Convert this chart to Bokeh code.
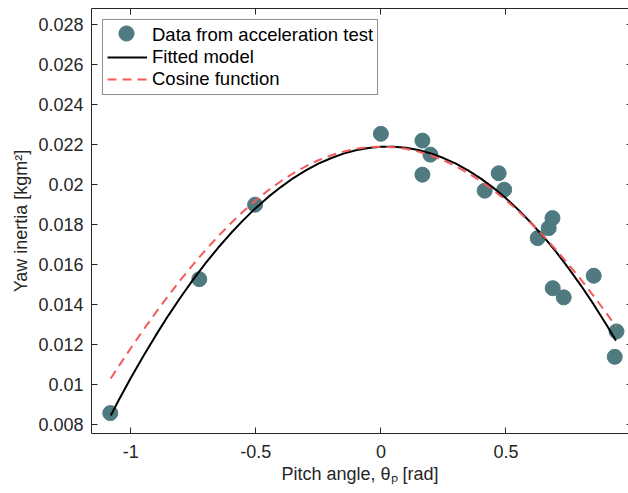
from bokeh.plotting import figure
from bokeh.models import FixedTicker, LinearAxis, Range1d, Legend, LegendItem
from bokeh.embed import file_html
from bokeh.resources import INLINE

# Measured data points (pitch angle [rad], yaw inertia [kgm^2])
pitch = [-1.082, -0.726, -0.503, 0.000, 0.166, 0.198, 0.166, 0.471, 0.415, 0.493,
         0.686, 0.671, 0.627, 0.851, 0.687, 0.731, 0.942, 0.935]
inertia = [0.00859, 0.01528, 0.0190, 0.02254, 0.0222, 0.0215, 0.0205, 0.02057, 0.0197, 0.01975,
           0.01833, 0.01783, 0.01733, 0.01545, 0.01483, 0.01437, 0.01267, 0.0114]

# Fitted model curve
fit_x = [-1.08, -1.05, -1.0, -0.95, -0.9, -0.85, -0.8, -0.75, -0.7, -0.65, -0.6, -0.55,
         -0.5, -0.45, -0.4, -0.35, -0.3, -0.25, -0.2, -0.15, -0.1, -0.05, 0.0,
         0.05, 0.1, 0.15, 0.2, 0.25, 0.3, 0.35, 0.4, 0.45, 0.5, 0.55, 0.6, 0.65,
         0.7, 0.75, 0.8, 0.85, 0.9, 0.94]
fit_y = [0.00847, 0.00919, 0.01034, 0.01143, 0.01247, 0.01346, 0.01439, 0.01527, 0.01609,
         0.01686, 0.01757, 0.01823, 0.01884, 0.01939, 0.01988, 0.02033, 0.02071, 0.02105,
         0.02132, 0.02155, 0.02172, 0.02183, 0.02189,
         0.0219, 0.02184, 0.02173, 0.02156, 0.02133, 0.02105, 0.0207, 0.0203, 0.01984,
         0.01932, 0.01874, 0.0181, 0.0174, 0.01665, 0.01583, 0.01496, 0.01403, 0.01304,
         0.01221]

# Cosine function curve
cos_x = [-1.08, -1.05, -1.0, -0.95, -0.9, -0.85, -0.8, -0.75, -0.7, -0.65, -0.6, -0.55,
         -0.5, -0.45, -0.4, -0.35, -0.3, -0.25, -0.2, -0.15, -0.1, -0.05, 0.0,
         0.05, 0.1, 0.15, 0.2, 0.25, 0.3, 0.35, 0.4, 0.45, 0.5, 0.55, 0.6, 0.65,
         0.7, 0.75, 0.8, 0.85, 0.9, 0.94]
cos_y = [0.01032, 0.0109, 0.01183, 0.01274, 0.01361, 0.01445, 0.01526, 0.01602, 0.01675,
         0.01743, 0.01807, 0.01867, 0.01922, 0.01972, 0.02017, 0.02057, 0.02092, 0.02122,
         0.02146, 0.02165, 0.02179, 0.02187, 0.0219,
         0.02187, 0.02179, 0.02165, 0.02146, 0.02122, 0.02092, 0.02057, 0.02017, 0.01972,
         0.01922, 0.01867, 0.01807, 0.01743, 0.01675, 0.01602, 0.01526, 0.01445, 0.01361,
         0.01292]

x_ticks = [-1, -0.5, 0, 0.5]
x_tick_labels = ["-1", "-0.5", "0", "0.5"]
y_ticks = [0.008, 0.010, 0.012, 0.014, 0.016, 0.018, 0.020, 0.022, 0.024, 0.026, 0.028]
y_tick_labels = ["0.008", "0.01", "0.012", "0.014", "0.016", "0.018", "0.02",
                 "0.022", "0.024", "0.026", "0.028"]

AX = "#262626"
FONT = "Liberation Sans"
FS = "18px"

p = figure(width=628, height=493,
           x_range=Range1d(-1.157, 0.99), y_range=Range1d(0.00757, 0.0288),
           output_backend="svg", toolbar_location=None,
           min_border_left=91, min_border_right=0, min_border_top=8, min_border_bottom=60)
p.xgrid.visible = False
p.ygrid.visible = False
p.outline_line_color = None
p.background_fill_color = "white"
p.border_fill_color = "white"


def style_axis(ax, ticks, labels, show_labels=True):
    ax.ticker = FixedTicker(ticks=ticks)
    ax.major_label_overrides = {t: (l if show_labels else "") for t, l in zip(ticks, labels)}
    ax.minor_tick_line_color = None
    ax.major_tick_in = 6
    ax.major_tick_out = 0
    ax.major_tick_line_color = AX
    ax.axis_line_color = AX
    ax.major_label_text_color = AX
    ax.major_label_text_font = FONT
    ax.major_label_text_font_size = FS if show_labels else "0px"
    ax.axis_label_text_color = AX
    ax.axis_label_text_font = FONT
    ax.axis_label_text_font_size = FS
    ax.axis_label_text_font_style = "normal"


style_axis(p.xaxis[0], x_ticks, x_tick_labels)
style_axis(p.yaxis[0], y_ticks, y_tick_labels)
p.xaxis[0].major_label_standoff = 11
p.yaxis[0].major_label_standoff = 8
p.xaxis[0].axis_label = "Pitch angle, θₚ [rad]"
p.yaxis[0].axis_label = "Yaw inertia [kgm²]"
p.xaxis[0].axis_label_standoff = 3
p.yaxis[0].axis_label_standoff = 4

top = LinearAxis()
style_axis(top, x_ticks, x_tick_labels, show_labels=False)
top.major_label_standoff = 0
p.add_layout(top, "above")
# right-hand box edge lies just outside the picture: only tick stubs show
right = LinearAxis()
style_axis(right, y_ticks, y_tick_labels, show_labels=False)
right.major_label_standoff = 0
right.major_tick_in = 2
right.axis_line_color = None
p.add_layout(right, "right")

r_data = p.scatter(pitch, inertia, size=15, fill_color="#4e7a80", line_color="#4e7a80")
r_fit = p.line(fit_x, fit_y, line_color="black", line_width=2)
r_cos = p.line(cos_x, cos_y, line_color="#f55a5a", line_width=2, line_dash="9 6")

legend = Legend(items=[
    LegendItem(label="Data from acceleration test", renderers=[r_data]),
    LegendItem(label="Fitted model", renderers=[r_fit]),
    LegendItem(label="Cosine function", renderers=[r_cos]),
], location="top_left")
legend.margin = 11
legend.padding = 4
legend.spacing = 0
legend.glyph_width = 40
legend.glyph_height = 20
legend.label_height = 20
legend.label_standoff = 5
legend.label_text_font = FONT
legend.label_text_font_size = "18.5px"
legend.label_text_color = "black"
legend.border_line_color = AX
legend.border_line_width = 1
legend.background_fill_alpha = 1
p.add_layout(legend, "center")

# larger marker symbol over the first legend entry (same size as the data markers)
legend_marker = Legend(items=[LegendItem(label=" ", renderers=[r_data])],
                       location=(15, 381))
legend_marker.padding = 0
legend_marker.margin = 0
legend_marker.glyph_width = 40
legend_marker.glyph_height = 38
legend_marker.label_standoff = 0
legend_marker.label_text_font_size = "1px"
legend_marker.border_line_color = None
legend_marker.background_fill_alpha = 0
p.add_layout(legend_marker, "center")

open("out.html", "w").write(file_html(p, INLINE))
